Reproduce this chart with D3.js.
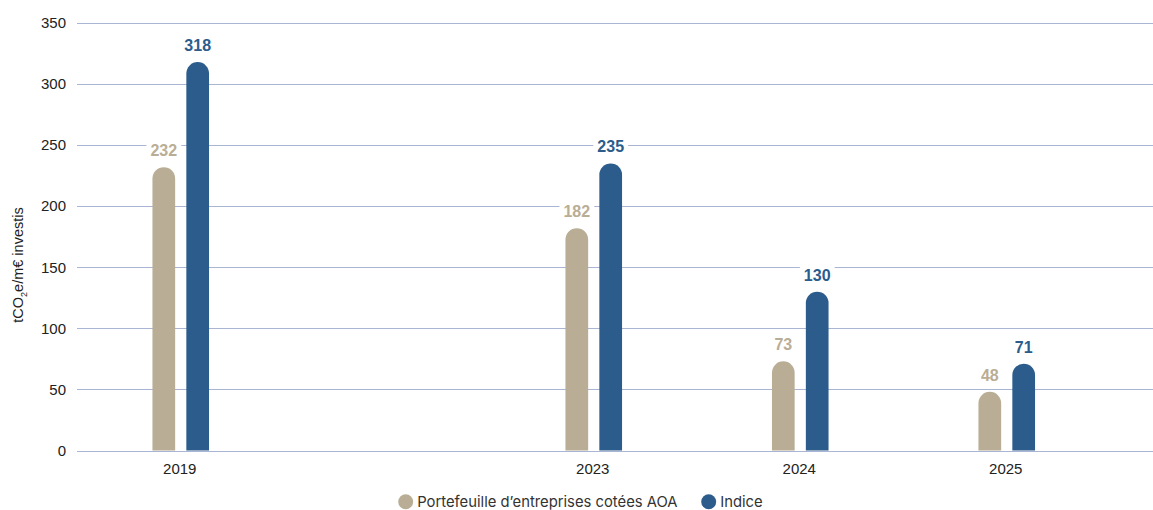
<!DOCTYPE html>
<html><head><meta charset="utf-8">
<script src="https://cdn.jsdelivr.net/npm/d3@7"></script>
<style>
html,body{margin:0;padding:0;background:#fff;}
svg{display:block;}
</style></head>
<body>
<svg id="chart" width="1153" height="510"></svg>
<script>
// ---- data ----
const years = ["2019", "2023", "2024", "2025"];
const axisSlots = ["2019", "", "2023", "2024", "2025"]; // empty slot = gap in the original axis
const seriesNames = ["Portefeuille d’entreprises cotées AOA", "Indice"];
const portfolioValues = [232, 182, 73, 48];
const indexValues = [318, 235, 130, 71];
const yTicks = [0, 50, 100, 150, 200, 250, 300, 350];
const yTitle = "tCO2e/m€ investis";

const colors = ["#b9ae95", "#2b5c8b"];
const series = [portfolioValues, indexValues];

const svg = d3.select("#chart");
const W = 1153;
const left = 77.5, right = 1110;
const x = d3.scaleBand().domain(axisSlots).range([left, right]).paddingInner(0).paddingOuter(0);
const y = d3.scaleLinear().domain([0, 350]).range([450.5, 23]);
const inner = d3.scaleBand().domain([0, 1]).range([-28.3, 28.3]).paddingInner(0.33);
const bw = inner.bandwidth();

// grid lines
svg.append("g").selectAll("line").data(yTicks).join("line")
  .attr("x1", 77).attr("x2", W)
  .attr("y1", d => Math.round(y(d)) + 0.5).attr("y2", d => Math.round(y(d)) + 0.5)
  .attr("stroke", "#aab5d3").attr("stroke-width", 1.2);

// y tick labels
svg.append("g").selectAll("text").data(yTicks).join("text")
  .attr("x", 66).attr("y", d => y(d))
  .attr("dy", "0.35em")
  .attr("text-anchor", "end")
  .attr("font-family", "Liberation Sans, Arial, sans-serif")
  .attr("font-size", 15).attr("fill", "#222")
  .text(d => d);

// x tick labels
svg.append("g").selectAll("text").data(years).join("text")
  .attr("x", d => x(d) + x.bandwidth() / 2 - 1)
  .attr("y", 474)
  .attr("text-anchor", "middle")
  .attr("font-family", "Liberation Sans, Arial, sans-serif")
  .attr("font-size", 15).attr("fill", "#222")
  .text(d => d);

// y title with subscript
const yt = svg.append("text")
  .attr("transform", "translate(23,265) rotate(-90)")
  .attr("text-anchor", "middle")
  .attr("font-family", "Liberation Sans, Arial, sans-serif")
  .attr("font-size", 14.5).attr("fill", "#222");
yt.append("tspan").text("tCO");
yt.append("tspan").attr("font-size", 9).attr("dy", 4).text("2");
yt.append("tspan").attr("dy", -4).text(yTitle.slice(4));

// bars with rounded tops
function barPath(x0, w, yTop, yBase) {
  const r = w / 2;
  return `M${x0},${yBase}V${yTop + r}A${r},${r} 0 0 1 ${x0 + w},${yTop + r}V${yBase}Z`;
}
const bars = [];
years.forEach((yr, i) => {
  series.forEach((vals, s) => {
    bars.push({yr, s, v: vals[i]});
  });
});
const cx = d => x(d.yr) + x.bandwidth() / 2;
svg.append("g").selectAll("path").data(bars).join("path")
  .attr("d", d => barPath(cx(d) + inner(d.s), bw, y(d.v), y(0)))
  .attr("fill", d => colors[d.s]);

// value labels with white background
const lg = svg.append("g").selectAll("g").data(bars).join("g");
lg.append("text")
  .attr("x", d => cx(d) + inner(d.s) + bw / 2)
  .attr("y", d => y(d.v) - 11)
  .attr("text-anchor", "middle")
  .attr("font-family", "Liberation Sans, Arial, sans-serif")
  .attr("font-weight", "bold")
  .attr("font-size", 16)
  .attr("fill", d => colors[d.s])
  .text(d => d.v);
lg.each(function() {
  const g = d3.select(this);
  const bb = g.select("text").node().getBBox();
  g.insert("rect", "text")
    .attr("x", bb.x - 4).attr("y", bb.y).attr("width", bb.width + 8).attr("height", bb.height)
    .attr("fill", "#fff");
});

// legend
const legendX = [405.7, 708.7];
const leg = svg.append("g").selectAll("g").data(seriesNames).join("g");
leg.append("circle")
  .attr("cx", (d, i) => legendX[i]).attr("cy", 501.7).attr("r", 7.5)
  .attr("fill", (d, i) => colors[i]);
leg.append("text")
  .attr("x", (d, i) => legendX[i] + 11.5).attr("y", 507)
  .attr("font-family", "Inter, sans-serif")
  .attr("font-size", 14.8).attr("fill", "#333")
  .text(d => d);
</script>
</body></html>
